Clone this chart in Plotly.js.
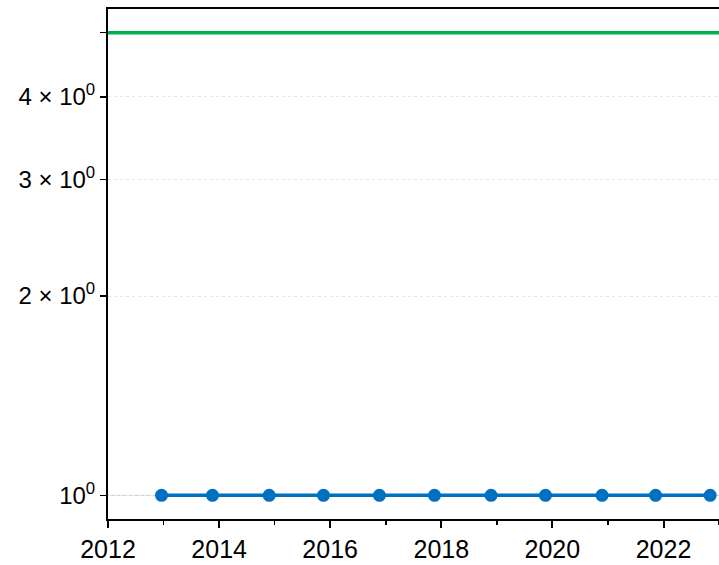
<!DOCTYPE html>
<html>
<head>
<meta charset="utf-8">
<script src="https://cdn.plot.ly/plotly-3.0.1.min.js"></script>
<style>html,body{margin:0;padding:0;background:#fff;}#chart{width:719px;height:565px;}</style>
</head>
<body>
<div id="chart"></div>
<script>
// Data
const dates = ["2012-12-18", "2013-11-18", "2014-11-26", "2015-11-18", "2016-11-20",
               "2017-11-17", "2018-11-24", "2019-11-17", "2020-11-23", "2021-11-10", "2022-11-04"];
const values = [1, 1, 1, 1, 1, 1, 1, 1, 1, 1, 1];
const targetValue = 5;
const baseValue = 1;
const yTickVals = [1, 2, 3, 4];
const yTickText = ["10<sup>0</sup>", "2 × 10<sup>0</sup>", "3 × 10<sup>0</sup>", "4 × 10<sup>0</sup>"];
const yUnlabeledTicks = [5];
const xRange = ["2012-01-01", "2023-01-01"];

const traces = [{
  x: dates, y: values, type: "scatter", mode: "lines+markers",
  line: {color: "#0070c0", width: 3.5},
  marker: {color: "#0070c0", size: 13},
  showlegend: false, cliponaxis: false
}];

const layout = {
  width: 719, height: 565,
  margin: {l: 108, r: 0, t: 9, b: 46},
  paper_bgcolor: "#ffffff", plot_bgcolor: "#ffffff",
  font: {family: "Liberation Sans, Arial, sans-serif", size: 24, color: "#000"},
  showlegend: false,
  xaxis: {
    type: "date", range: xRange,
    tick0: "2012-01-01", dtick: "M24", tickformat: "%Y",
    ticks: "outside", ticklen: 7, tickwidth: 2, tickcolor: "#000",
    minor: {dtick: "M12", ticks: "outside", ticklen: 4, tickwidth: 1.5, tickcolor: "#000", showgrid: false},
    showgrid: false, zeroline: false,
    showline: true, linecolor: "#000", linewidth: 2, mirror: true,
    tickfont: {size: 25, color: "#000"}
  },
  yaxis: {
    type: "log", range: [-0.0357, 0.7347],
    tickmode: "array", tickvals: yTickVals, ticktext: yTickText,
    ticks: "outside", ticklen: 6, tickwidth: 1.5, tickcolor: "#000",
    minor: {tickmode: "array", tickvals: yUnlabeledTicks, ticks: "outside", ticklen: 6, tickwidth: 1.5, tickcolor: "#000", showgrid: false},
    showgrid: true, gridcolor: "#e8e8e8", griddash: "dot", gridwidth: 1,
    zeroline: false,
    showline: true, linecolor: "#000", linewidth: 2,
    tickfont: {size: 24, color: "#000"}
  },
  shapes: [
    {type: "line", xref: "paper", x0: 0, x1: 1, yref: "y", y0: baseValue, y1: baseValue,
     line: {color: "#cccccc", width: 1}, layer: "below"},
    {type: "line", xref: "paper", x0: 0, x1: 1, yref: "y", y0: targetValue, y1: targetValue,
     line: {color: "#00b050", width: 3.5}}
  ]
};

Plotly.newPlot("chart", traces, layout, {displayModeBar: false, staticPlot: true});
</script>
</body>
</html>
